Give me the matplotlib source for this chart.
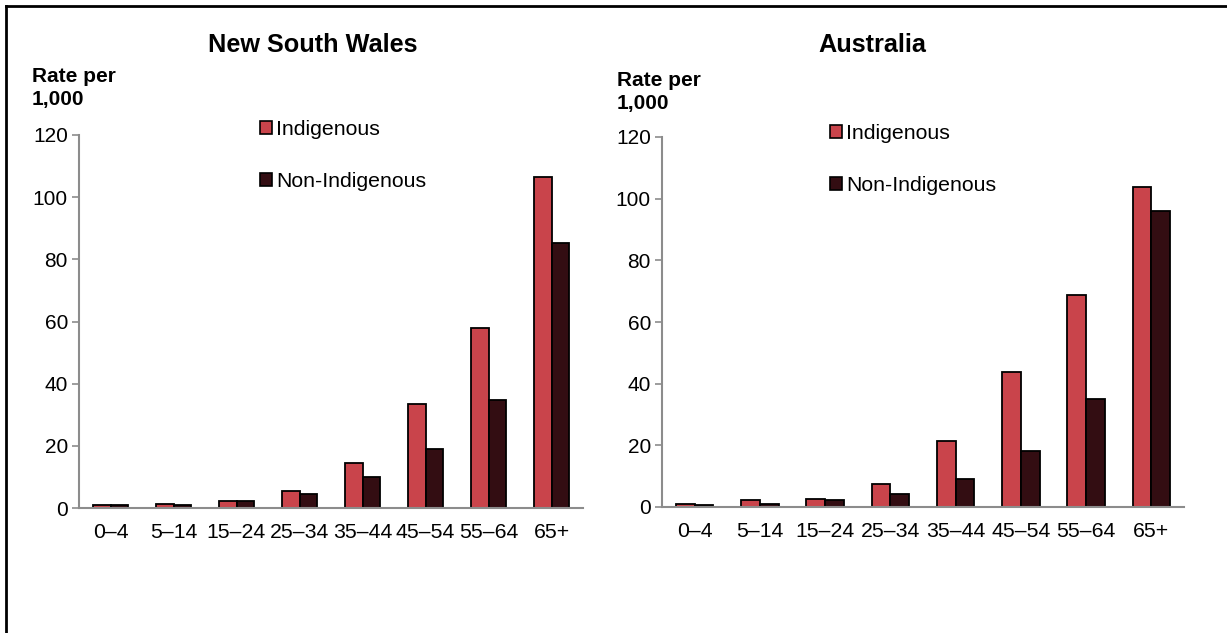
import numpy as np
import matplotlib.pyplot as plt
from matplotlib.patches import Patch
from matplotlib.lines import Line2D

plt.rcParams['font.family'] = ['Liberation Sans', 'DejaVu Sans']

# Data
age_groups = ["0–4", "5–14", "15–24", "25–34", "35–44", "45–54", "55–64", "65+"]
nsw_indigenous = [1.0, 1.4, 2.2, 5.5, 14.6, 33.6, 58.0, 106.6]
nsw_non_indigenous = [1.0, 1.1, 2.1, 4.4, 10.0, 19.0, 34.6, 85.4]
aus_indigenous = [1.1, 2.2, 2.7, 7.6, 21.4, 43.7, 68.6, 103.7]
aus_non_indigenous = [0.8, 1.0, 2.2, 4.1, 9.1, 18.1, 34.9, 96.0]
series_labels = ["Indigenous", "Non-Indigenous"]
y_ticks = [0, 20, 40, 60, 80, 100, 120]

RED = "#C9444B"
DARK = "#330D12"
AXIS_GREY = "#8C8C8C"

W, H = 1227, 633
fig = plt.figure(figsize=(W / 100, H / 100), dpi=100)


def fx(px):
    return px / W


def fy(py):
    return 1 - py / H


panels = [
    ("New South Wales", nsw_indigenous, nsw_non_indigenous,
     (79, 583, 135, 508), 313, 32, 88, (262, 120)),
    ("Australia", aus_indigenous, aus_non_indigenous,
     (662, 1184, 137, 507), 872, 617, 92, (832, 124)),
]

x = np.arange(len(age_groups))
bw = 0.2857

for title, ind, non, (x0, x1, yt, yb), tx, rx, ry, (lx, ly) in panels:
    ax = fig.add_axes([fx(x0), fy(yb), fx(x1 - x0), (yb - yt) / H])
    ax.bar(x - bw / 2, ind, bw, color=RED, edgecolor="black", linewidth=1.3)
    ax.bar(x + bw / 2, non, bw, color=DARK, edgecolor="black", linewidth=1.3)
    ax.set_xlim(-0.5, len(age_groups) - 0.5)
    ax.set_ylim(0, 120)
    ax.set_yticks(y_ticks)
    ax.set_xticks(x)
    ax.set_xticklabels(age_groups, fontsize=15.3)
    ax.tick_params(axis="y", labelsize=15, color=AXIS_GREY, length=5,
                   width=1.2, pad=3)
    ax.tick_params(axis="x", length=0, pad=11)
    for side in ["top", "right"]:
        ax.spines[side].set_visible(False)
    for side in ["left", "bottom"]:
        ax.spines[side].set_color(AXIS_GREY)
        ax.spines[side].set_linewidth(1.5)

    fig.text(fx(tx), fy(45), title, ha="center", va="center",
             fontsize=18.2, fontweight="bold")
    fig.text(fx(rx), fy(ry), "Rate per\n1,000", ha="left", va="center",
             fontsize=15, fontweight="bold", linespacing=1.2)

    handles = [Patch(facecolor=RED, edgecolor="black", linewidth=1.2),
               Patch(facecolor=DARK, edgecolor="black", linewidth=1.2)]
    fig.legend(handles, series_labels, loc="upper left",
               bbox_to_anchor=(fx(lx - 2), fy(ly)),
               bbox_transform=fig.transFigure, frameon=False,
               fontsize=15.3, handlelength=0.55, handleheight=0.55,
               handletextpad=0.2, labelspacing=1.55, borderpad=0,
               borderaxespad=0)

# frame lines (left and top)
fig.add_artist(Line2D([fx(6), fx(6)], [fy(6), 0], color="black", linewidth=2))
fig.add_artist(Line2D([fx(6), 1], [fy(6), fy(6)], color="black", linewidth=2))

fig.savefig("out.png", dpi=100)
